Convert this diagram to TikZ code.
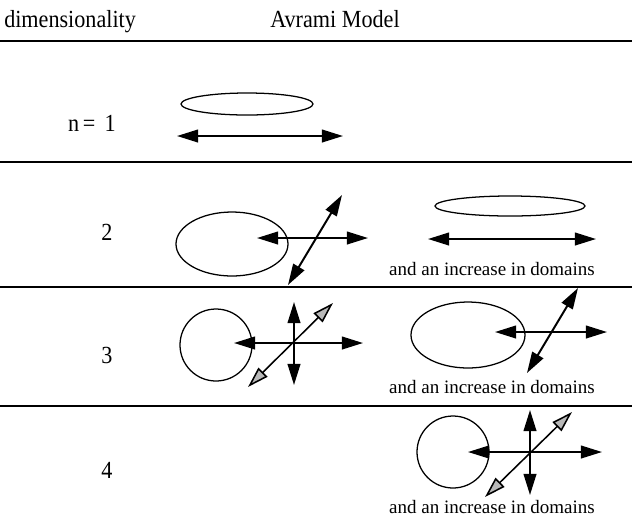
\documentclass[tikz,border=0pt]{standalone}
\usepackage{fontspec}
\setmainfont{Liberation Serif}
\usetikzlibrary{arrows.meta}

\begin{document}
\begin{tikzpicture}[x=0.025cm,y=-0.025cm,
    growth/.style={line width=1.4pt,{Triangle[length=15pt,width=9pt]}-{Triangle[length=15pt,width=9pt]}},
    growthg/.style={line width=1.1pt,{Triangle[length=15pt,width=9pt,fill=gray!55]}-{Triangle[length=15pt,width=9pt,fill=gray!55]}},
    grain/.style={line width=0.9pt},
    rule/.style={line width=0.9pt},
    head/.style={font=\fontsize{17.5}{20}\selectfont,inner sep=0pt,xscale=0.9,transform shape},
    small/.style={font=\fontsize{13.5}{16}\selectfont,inner sep=0pt}]
        \useasboundingbox (0,0) rectangle (632,529);
        % headings and rules
        \node[head,anchor=base west] (dim) at (4,27) {dimensionality};
        \node[head,anchor=base] (avrami) at (335,27) {Avrami Model};
        \draw[rule] (0,41) -- (632,41);
        \draw[rule] (0,162) -- (632,162);
        \draw[rule] (0,287) -- (632,287);
        \draw[rule] (0,406) -- (632,406);
        % row labels
        \node[head] (n1) at (92,123) {n\,=\,\ 1};
        \node[head] (n2) at (107,232) {2};
        \node[head] (n3) at (107,355) {3};
        \node[head] (n4) at (107,470) {4};
        % n = 1
        \draw[grain] (247,104) ellipse (66 and 11);
        \draw[growth] (177,136) -- (343,136);
        % n = 2
        \draw[grain] (232,244) ellipse (56 and 32);
        \draw[growth] (257,238) -- (368,238);
        \draw[growth] (342,195) -- (288,285);
        \draw[grain] (510,206) ellipse (75 and 10);
        \draw[growth] (428,239) -- (596,239);
        \node[small] (inc2) at (492,269) {and an increase in domains};
        % n = 3
        \draw[grain] (216,345) circle (36);
        \draw[growth] (234,343) -- (363,343);
        \draw[growth] (294,302) -- (294,385);
        \draw[growthg] (248,387) -- (333,303);
        \draw[grain] (468,335) ellipse (57 and 33);
        \draw[growth] (495,332) -- (607,332);
        \draw[growth] (578,288) -- (527,373);
        \node[small] (inc3) at (492,387) {and an increase in domains};
        % n = 4
        \draw[grain] (453,452) circle (36);
        \draw[growth] (468,452) -- (602,452);
        \draw[growth] (530,410) -- (530,495);
        \draw[growthg] (485,497) -- (572,412);
        \node[small] (inc4) at (492,507) {and an increase in domains};
    \end{tikzpicture}
\end{document}
